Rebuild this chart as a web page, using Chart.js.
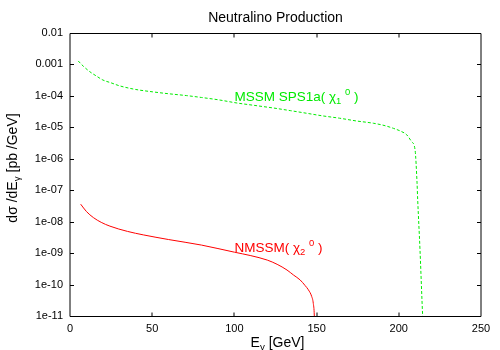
<!DOCTYPE html>
<html>
<head>
<meta charset="utf-8">
<script src="https://cdn.jsdelivr.net/npm/chart.js@4/dist/chart.umd.min.js"></script>
<style>
  html, body { margin: 0; padding: 0; background: #fff; }
  #wrap { width: 500px; height: 350px; }
</style>
</head>
<body>
<div id="wrap"><canvas id="c" width="500" height="350"></canvas></div>
<script>
// ---- data ----
const E_MSSM = [5, 8, 12, 16, 20, 25, 30, 40, 50, 60, 71, 80, 91, 101, 112, 124, 134, 144, 154, 164, 174, 184.5, 191, 196.7, 201, 204.8, 207.8, 209.9, 211.1, 211.5, 212.9, 214.1, 214.5, 214.9];
const SIG_MSSM = [1.29e-3, 8.9e-4, 5.9e-4, 4.3e-4, 3.2e-4, 2.6e-4, 2.1e-4, 1.6e-4, 1.35e-4, 1.17e-4, 1.02e-4, 8.9e-5, 7.4e-5, 6.0e-5, 5.0e-5, 4.1e-5, 3.4e-5, 2.8e-5, 2.3e-5, 1.95e-5, 1.6e-5, 1.35e-5, 1.15e-5, 9.3e-6, 7.6e-6, 5.8e-6, 3.5e-6, 1.9e-6, 1.7e-7, 4.9e-8, 1.26e-9, 3.2e-11, 1.0e-11, 3.2e-12];

const E_NMSSM = [6.5, 10, 14.2, 19, 24.3, 35, 44.6, 60, 80, 100, 110, 120, 126, 132, 136, 140, 143, 145, 147, 148, 148.6, 148.8];
const SIG_NMSSM = [3.6e-8, 2.1e-8, 1.35e-8, 9.5e-9, 7.2e-9, 4.9e-9, 3.8e-9, 2.7e-9, 1.8e-9, 1.07e-9, 8.3e-10, 6.0e-10, 4.4e-10, 2.9e-10, 2.0e-10, 1.4e-10, 9.3e-11, 6.8e-11, 4.2e-11, 2.5e-11, 1.0e-11, 3.2e-12];

const X_TICKS = [0, 50, 100, 150, 200, 250];
const Y_TICKS = [1e-11, 1e-10, 1e-9, 1e-8, 1e-7, 1e-6, 1e-5, 1e-4, 1e-3, 1e-2];
const Y_TICK_LABELS = ['1e-11', '1e-10', '1e-09', '1e-08', '1e-07', '1e-06', '1e-05', '1e-04', '0.001', '0.01'];

const TITLE = 'Neutralino Production';
const LABEL_MSSM = { x: 100, y: 7.1e-5 };
const LABEL_NMSSM = { x: 100, y: 1.12e-9 };

const GREEN = 'rgb(0,235,0)';
const RED = 'rgb(255,0,0)';
const FONT = '"Liberation Sans", Arial, Helvetica, sans-serif';

function pts(xs, ys) { return xs.map((x, i) => ({ x: x, y: ys[i] })); }

// draws text made of segments [text, scale, dy]
function rich(ctx, x, y, parts, size, align) {
  let total = 0;
  const widths = parts.map(p => {
    ctx.font = (size * (p[1] || 1)) + 'px ' + FONT;
    const w = ctx.measureText(p[0]).width;
    total += w;
    return w;
  });
  let cx = align === 'center' ? x - total / 2 : x;
  parts.forEach((p, i) => {
    ctx.font = (size * (p[1] || 1)) + 'px ' + FONT;
    ctx.fillText(p[0], cx, y + (p[2] || 0));
    cx += widths[i];
  });
}

const deco = {
  id: 'deco',
  afterDraw(chart) {
    const ctx = chart.ctx;
    const a = chart.chartArea;
    const xs = chart.scales.x, ys = chart.scales.y;
    ctx.save();
    // frame
    ctx.strokeStyle = '#000';
    ctx.lineWidth = 1;
    const L = Math.round(a.left), R = Math.round(a.right);
    const T = Math.round(a.top) + 0.5, B = Math.round(a.bottom) + 0.5;
    ctx.beginPath();
    ctx.moveTo(L, T); ctx.lineTo(R, T);
    ctx.moveTo(L, B); ctx.lineTo(R, B);
    ctx.moveTo(L, T); ctx.lineTo(L, B);
    ctx.moveTo(R, T); ctx.lineTo(R, B);
    // inward ticks
    const tl = 4;
    X_TICKS.forEach(v => {
      const px = Math.round(xs.getPixelForValue(v));
      if (px <= L + 1 || px >= R - 1) return;
      ctx.moveTo(px, B); ctx.lineTo(px, B - tl);
      ctx.moveTo(px, T); ctx.lineTo(px, T + tl);
    });
    Y_TICKS.forEach(v => {
      const py = Math.round(ys.getPixelForValue(v)) + 0.5;
      if (py <= T + 1 || py >= B - 1) return;
      ctx.moveTo(L, py); ctx.lineTo(L + tl, py);
      ctx.moveTo(R, py); ctx.lineTo(R - tl, py);
    });
    ctx.stroke();

    ctx.textBaseline = 'alphabetic';
    ctx.textAlign = 'left';
    // title
    ctx.fillStyle = '#000';
    rich(ctx, (a.left + a.right) / 2, 22, [[TITLE]], 14, 'center');
    // x axis title
    rich(ctx, (a.left + a.right) / 2 + 2, 347, [['E'], ['\u03b3', 0.7, 3], [' [GeV]']], 14, 'center');
    // y axis title
    ctx.save();
    ctx.translate(17, 168);
    ctx.rotate(-Math.PI / 2);
    rich(ctx, 0, 0, [['d\u03c3 /dE'], ['\u03b3', 0.7, 3], [' [pb /GeV]']], 14, 'center');
    ctx.restore();

    // curve labels
    ctx.fillStyle = GREEN;
    rich(ctx, xs.getPixelForValue(LABEL_MSSM.x), ys.getPixelForValue(LABEL_MSSM.y),
      [['MSSM SPS1a( '], ['\u03c7'], ['1', 0.7, 3], [' '], ['0', 0.7, -6], [' )']], 13.5, 'left');
    ctx.fillStyle = RED;
    rich(ctx, xs.getPixelForValue(LABEL_NMSSM.x), ys.getPixelForValue(LABEL_NMSSM.y),
      [['NMSSM( '], ['\u03c7'], ['2', 0.7, 3], [' '], ['0', 0.7, -6], [' )']], 13.5, 'left');
    ctx.restore();
  }
};

new Chart(document.getElementById('c'), {
  type: 'line',
  data: {
    datasets: [
      {
        label: 'MSSM SPS1a',
        data: pts(E_MSSM, SIG_MSSM),
        borderColor: GREEN,
        borderWidth: 1,
        borderDash: [3, 2],
        pointRadius: 0,
        fill: false,
        cubicInterpolationMode: 'monotone'
      },
      {
        label: 'NMSSM',
        data: pts(E_NMSSM, SIG_NMSSM),
        borderColor: RED,
        borderWidth: 1,
        pointRadius: 0,
        fill: false,
        cubicInterpolationMode: 'monotone'
      }
    ]
  },
  options: {
    responsive: false,
    animation: false,
    devicePixelRatio: 1,
    layout: { padding: { top: 33, right: 19, left: 0, bottom: 0 } },
    plugins: { legend: { display: false }, tooltip: { enabled: false }, title: { display: false } },
    scales: {
      x: {
        type: 'linear', min: 0, max: 250,
        afterBuildTicks: s => { s.ticks = X_TICKS.map(v => ({ value: v })); },
        afterFit: s => { s.height = 34; },
        grid: { display: false, drawTicks: false },
        border: { display: false },
        ticks: { padding: 6, color: '#000', font: { size: 11, family: FONT }, maxRotation: 0 }
      },
      y: {
        type: 'logarithmic', min: 1e-11, max: 1e-2,
        afterBuildTicks: s => { s.ticks = Y_TICKS.map(v => ({ value: v })); },
        afterFit: s => { s.width = 70; },
        grid: { display: false, drawTicks: false },
        border: { display: false },
        ticks: {
          padding: 7, color: '#000', font: { size: 11, family: FONT },
          callback: (v, i) => Y_TICK_LABELS[i]
        }
      }
    }
  },
  plugins: [deco]
});
</script>
</body>
</html>
